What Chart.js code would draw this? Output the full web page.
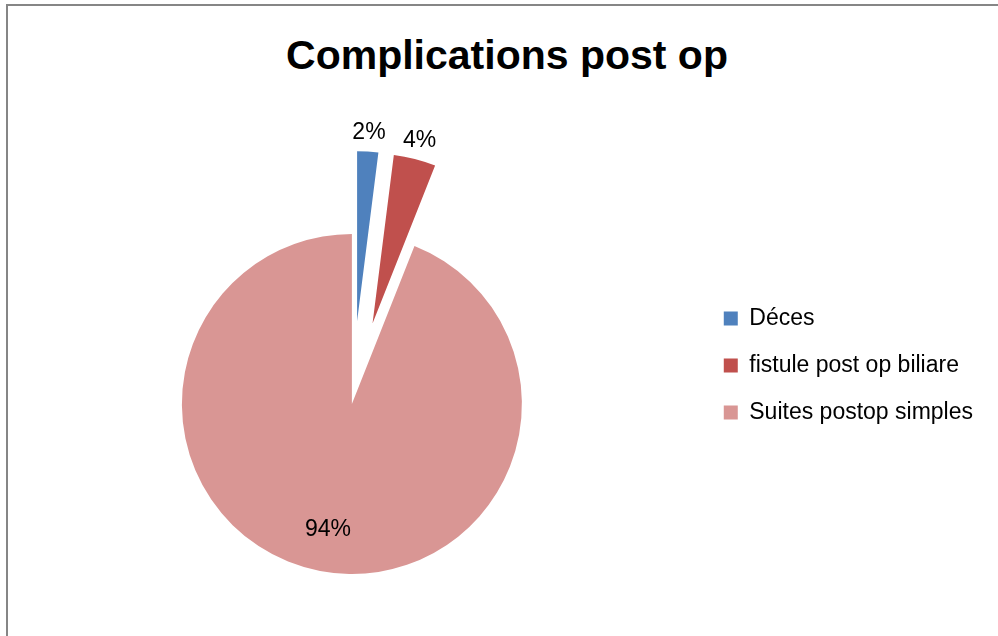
<!DOCTYPE html>
<html>
<head>
<meta charset="utf-8">
<title>Complications post op</title>
<script src="https://cdn.jsdelivr.net/npm/chart.js@4.4.0/dist/chart.umd.min.js"></script>
<style>
    body { margin: 0; overflow: hidden; background: #fff; }
    #cadre { position: absolute; left: 6px; top: 4px; width: 1100px; height: 700px; border-top: 2px solid #868686; border-left: 2px solid #868686; }
    #titre { position: absolute; left: 0; top: 31px; width: 1014px; text-align: center; font: bold 41px "Liberation Sans", Arial, sans-serif; line-height: 1.2; color: #000; }
    #graf { position: absolute; left: 0; top: 0; }
</style>
</head>
<body>
<div id="cadre"></div>
<div id="titre">Complications post op</div>
<canvas id="graf" width="998" height="636"></canvas>
<script>
//Donnees
var categories = ['Déces', 'fistule post op biliare', 'Suites postop simples'];
var pourcentages = [2, 4, 94];
var etiquettes = ['2%', '4%', '94%'];

//Style
var couleurs = ['#4F81BD', '#C0504D', '#D99694'];
var eclatement = [83, 83, 0];
var police = '"Liberation Sans", Arial, sans-serif';

//Parts eclatees
var eclatePlugin = {
    id: 'eclate',
    afterDatasetUpdate: function(chart, args) {
        var arcs = chart.getDatasetMeta(args.index).data;
        arcs.forEach(function(arc, i) {
            var mid = (arc.startAngle + arc.endAngle) / 2;
            arc.x += Math.cos(mid) * eclatement[i];
            arc.y += Math.sin(mid) * eclatement[i];
        });
    }
};

//Etiquettes de pourcentage
var etiquettePlugin = {
    id: 'etiquettes',
    afterDatasetsDraw: function(chart) {
        var ctx = chart.ctx;
        var arcs = chart.getDatasetMeta(0).data;
        ctx.save();
        ctx.font = '23px ' + police;
        ctx.fillStyle = '#000';
        ctx.textAlign = 'center';
        ctx.textBaseline = 'middle';
        arcs.forEach(function(arc, i) {
            var mid = (arc.startAngle + arc.endAngle) / 2;
            var dist = eclatement[i] > 0 ? arc.outerRadius + 19 : arc.outerRadius * 0.75;
            ctx.fillText(etiquettes[i], arc.x + Math.cos(mid) * dist, arc.y + Math.sin(mid) * dist);
        });
        ctx.restore();
    }
};

var ctx = document.getElementById('graf').getContext('2d');

var graf = new Chart(ctx, {
    type: 'pie',
    data: {
        labels: categories,
        datasets: [{
            data: pourcentages,
            backgroundColor: couleurs,
            borderWidth: 0,
            clip: false
        }]
    },
    options: {
        responsive: false,
        animation: false,
        radius: 170,
        layout: {
            padding: { left: 4, right: 15, top: 283, bottom: 111 }
        },
        plugins: {
            title: { display: false },
            tooltip: { enabled: false },
            legend: {
                position: 'right',
                align: 'start',
                labels: {
                    boxWidth: 14,
                    boxHeight: 14,
                    padding: 24,
                    color: '#000',
                    font: { family: police, size: 23 }
                }
            }
        }
    },
    plugins: [eclatePlugin, etiquettePlugin]
});
</script>
</body>
</html>
